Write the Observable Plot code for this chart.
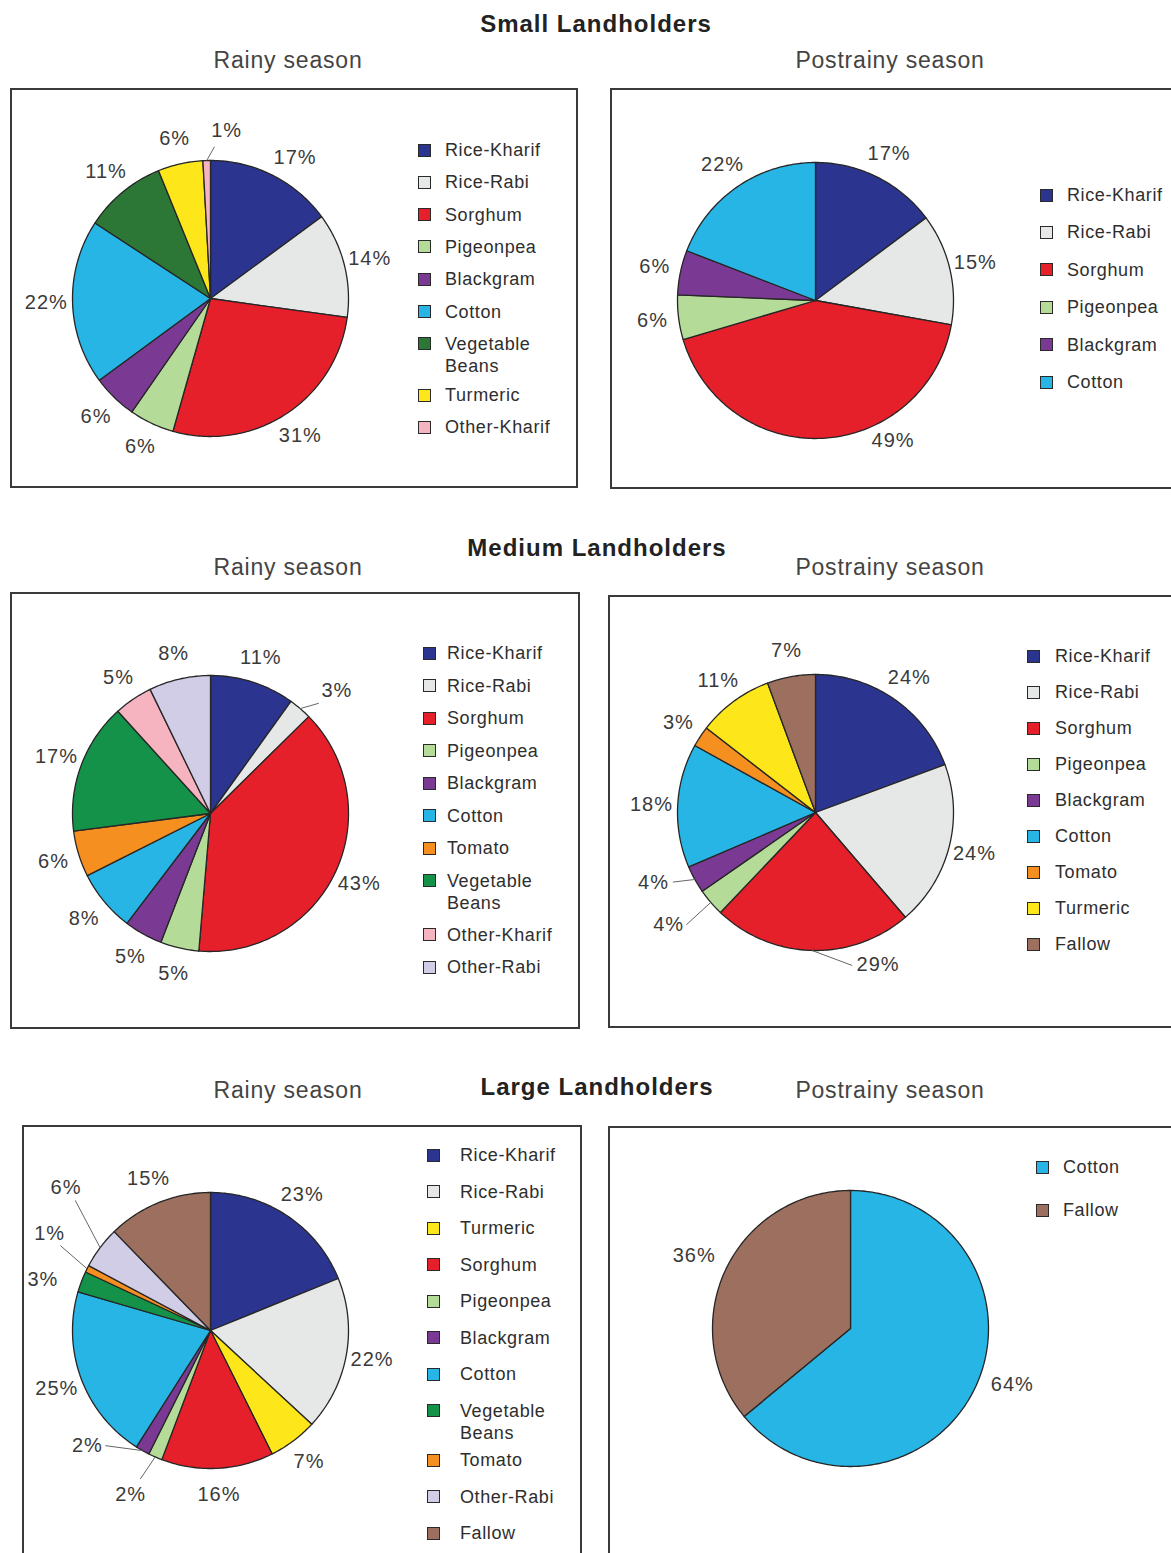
<!DOCTYPE html>
<html>
<head>
<meta charset="utf-8">
<script src="https://cdn.jsdelivr.net/npm/d3@7"></script>
<script src="https://cdn.jsdelivr.net/npm/@observablehq/plot@0.6"></script>
<style>
  body { margin: 0; background: #fff; font-family: "Liberation Sans", Arial, sans-serif; }
  #root { position: relative; width: 1171px; height: 1553px; overflow: hidden; background: #fff; }
  .abs { position: absolute; }
  .title { font-weight: bold; font-size: 24px; letter-spacing: 1px; color: #222; transform: translateX(-50%); white-space: nowrap; line-height: 28px; }
  .sub { font-size: 23px; letter-spacing: 0.8px; color: #444; transform: translateX(-50%); white-space: nowrap; line-height: 28px; }
  .box { border: 2px solid #3a3a3a; box-sizing: border-box; background: #fff; }
  .lrow { position: absolute; display: flex; align-items: flex-start; }
  .sw { width: 13px; height: 13px; box-sizing: border-box; border: 1.6px solid #2a2a2a; margin-top: 4.5px; flex: none; }
  .lt { font-size: 18px; letter-spacing: 0.6px; color: #2e2e2e; line-height: 22px; width: 118px; }
</style>
</head>
<body>
<div id="root"></div>
<script>
// ---------- data ----------
const smallRainyCrops = ["Rice-Kharif","Rice-Rabi","Sorghum","Pigeonpea","Blackgram","Cotton","Vegetable Beans","Turmeric","Other-Kharif"];
const smallRainyShares = [17,14,31,6,6,22,11,6,1];

const smallPostCrops = ["Rice-Kharif","Rice-Rabi","Sorghum","Pigeonpea","Blackgram","Cotton"];
const smallPostShares = [17,15,49,6,6,22];

const mediumRainyCrops = ["Rice-Kharif","Rice-Rabi","Sorghum","Pigeonpea","Blackgram","Cotton","Tomato","Vegetable Beans","Other-Kharif","Other-Rabi"];
const mediumRainyShares = [11,3,43,5,5,8,6,17,5,8];

const mediumPostCrops = ["Rice-Kharif","Rice-Rabi","Sorghum","Pigeonpea","Blackgram","Cotton","Tomato","Turmeric","Fallow"];
const mediumPostShares = [24,24,29,4,4,18,3,11,7];

const largeRainyCrops = ["Rice-Kharif","Rice-Rabi","Turmeric","Sorghum","Pigeonpea","Blackgram","Cotton","Vegetable Beans","Tomato","Other-Rabi","Fallow"];
const largeRainyShares = [23,22,7,16,2,2,25,3,1,6,15];

const largePostCrops = ["Cotton","Fallow"];
const largePostShares = [64,36];

const allCrops = ["Rice-Kharif","Rice-Rabi","Sorghum","Pigeonpea","Blackgram","Cotton","Vegetable Beans","Turmeric","Other-Kharif","Other-Rabi","Tomato","Fallow"];
const cropColors = ["#2b3590","#e6e7e7","#e6202a","#b5db98","#7a3a94","#27b5e6","#14924a","#fde619","#f6b4c0","#d2cde7","#f58f1f","#9c6f5e"];

const groupTitles = ["Small Landholders","Medium Landholders","Large Landholders"];
const seasonTitles = ["Rainy season","Postrainy season"];

// ---------- layout / style (not data) ----------
const R = 138, SIZE = 420, HALF = SIZE / 2, DOM = HALF / R;
const titleLayout = [
  {title: 596, y: 24, sub: 60},
  {title: 597, y: 548, sub: 567},
  {title: 597, y: 1087, sub: 1090}
];
const subX = [288, 890];
const boxes = [
  {l: 10, t: 88, w: 568, h: 400}, {l: 610, t: 88, w: 600, h: 401},
  {l: 10, t: 592, w: 570, h: 437}, {l: 608, t: 595, w: 600, h: 433},
  {l: 22, t: 1125, w: 560, h: 500}, {l: 608, t: 1126, w: 600, h: 500}
];
const charts = [
  {id: "smallRainy", crops: smallRainyCrops, shares: smallRainyShares, cx: 210, cy: 298, veg: "#2c7636",
   legend: {sx: 424, tx: 445, y0: 150, pitch: 32.3, extra: 19},
   tweaks: {"Other-Kharif": {angle: 5.5, r: 1.22, leader: [1.5, 1.10]},
            "Rice-Kharif": {angle: 31, r: 1.19}}},
  {id: "smallPost", crops: smallPostCrops, shares: smallPostShares, cx: 815, cy: 300,
   legend: {sx: 1046, tx: 1067, y0: 195, pitch: 37.4, extra: 19},
   tweaks: {"Sorghum": {angle: 151, r: 1.16}}},
  {id: "mediumRainy", crops: mediumRainyCrops, shares: mediumRainyShares, cx: 210, cy: 813,
   legend: {sx: 429, tx: 447, y0: 653, pitch: 32.5, extra: 21.5},
   tweaks: {"Rice-Rabi": {angle: 45.7, r: 1.28, leader: [44.5, 1.12]}}},
  {id: "mediumPost", crops: mediumPostCrops, shares: mediumPostShares, cx: 815, cy: 812,
   legend: {sx: 1033, tx: 1055, y0: 656, pitch: 36, extra: 19},
   tweaks: {"Sorghum": {angle: 157.6, r: 1.19, leader: [166.5, 1.14]},
            "Blackgram": {angle: 246.5, r: 1.28, leader: [244, 1.15]},
            "Pigeonpea": {angle: 232.6, r: 1.34, leader: [229, 1.24]}}},
  {id: "largeRainy", crops: largeRainyCrops, shares: largeRainyShares, cx: 210, cy: 1330,
   legend: {sx: 433, tx: 460, y0: 1155, pitch: 36.5, extra: 13},
   tweaks: {"Pigeonpea": {angle: 206, r: 1.32, leader: [205.3, 1.19]},
            "Blackgram": {angle: 227, r: 1.22, leader: [222.4, 1.13]},
            "Tomato": {angle: 301, r: 1.36, leader: [299.5, 1.25]},
            "Other-Rabi": {angle: 314.6, r: 1.47, leader: [313.9, 1.36]},
            "Vegetable Beans": {angle: 287, r: 1.27}}},
  {id: "largePost", crops: largePostCrops, shares: largePostShares, cx: 850, cy: 1328,
   legend: {sx: 1042, tx: 1063, y0: 1167, pitch: 43, extra: 19},
   tweaks: {"Cotton": {angle: 109, r: 1.24}, "Fallow": {angle: 295, r: 1.25}}}
];

const root = document.getElementById("root");
function add(cls, css, html) {
  const d = document.createElement("div");
  d.className = cls;
  Object.assign(d.style, css);
  if (html != null) d.textContent = html;
  root.appendChild(d);
  return d;
}

// titles
titleLayout.forEach((t, i) => {
  add("abs title", {left: t.title + "px", top: (t.y - 14) + "px"}, groupTitles[i]);
  seasonTitles.forEach((s, j) => add("abs sub", {left: subX[j] + "px", top: (t.sub - 14) + "px"}, s));
});
// boxes
boxes.forEach(b => add("abs box", {left: b.l + "px", top: b.t + "px", width: b.w + "px", height: b.h + "px"}));

const rad = a => a * Math.PI / 180;
function colorRange(chart) {
  return allCrops.map((c, i) => (c === "Vegetable Beans" && chart.veg) ? chart.veg : cropColors[i]);
}

charts.forEach(chart => {
  const arcs = d3.pie().sort(null).value(d => d)(chart.shares);
  const pts = [];
  const labels = [];
  const leaders = [];
  arcs.forEach((a, i) => {
    const crop = chart.crops[i];
    const n = Math.max(2, Math.ceil((a.endAngle - a.startAngle) / rad(1)));
    pts.push({crop, x: 0, y: 0});
    for (let k = 0; k <= n; k++) {
      const t = a.startAngle + (a.endAngle - a.startAngle) * k / n;
      pts.push({crop, x: Math.sin(t), y: Math.cos(t)});
    }
    pts.push({crop, x: 0, y: 0});
    const mid = (a.startAngle + a.endAngle) / 2;
    const tw = chart.tweaks[crop];
    const la = tw ? rad(tw.angle) : mid;
    const lr = tw ? tw.r : 1.19;
    labels.push({text: chart.shares[i] + "%", x: lr * Math.sin(la), y: lr * Math.cos(la)});
    if (tw && tw.leader) {
      const ea = rad(tw.leader[0]), er = tw.leader[1];
      leaders.push({x1: Math.sin(mid), y1: Math.cos(mid), x2: er * Math.sin(ea), y2: er * Math.cos(ea)});
    }
  });

  const svg = Plot.plot({
    width: SIZE, height: SIZE, margin: 0,
    x: {domain: [-DOM, DOM], axis: null},
    y: {domain: [-DOM, DOM], axis: null},
    color: {type: "ordinal", domain: allCrops, range: colorRange(chart)},
    style: {background: "transparent", overflow: "visible", fontFamily: "'Liberation Sans', Arial, sans-serif", letterSpacing: "1px"},
    marks: [
      Plot.line(pts, {x: "x", y: "y", z: "crop", fill: "crop", stroke: "#262626", strokeWidth: 1.3, strokeLinejoin: "round", curve: "linear"}),
      Plot.link(leaders, {x1: "x1", y1: "y1", x2: "x2", y2: "y2", stroke: "#666", strokeWidth: 1}),
      Plot.text(labels, {x: "x", y: "y", text: "text", fontSize: 20, fill: "#3a3a3a"})
    ]
  });
  const holder = add("abs", {left: (chart.cx - HALF) + "px", top: (chart.cy - HALF) + "px", width: SIZE + "px", height: SIZE + "px"});
  holder.appendChild(svg);

  // legend
  const L = chart.legend;
  const range = colorRange(chart);
  let y = L.y0;
  chart.crops.forEach(crop => {
    const row = add("lrow", {left: (L.sx - 6.5) + "px", top: (y - 11) + "px"});
    const sw = document.createElement("div");
    sw.className = "sw";
    sw.style.background = range[allCrops.indexOf(crop)];
    sw.style.marginRight = (L.tx - L.sx - 6.5) + "px";
    const tx = document.createElement("div");
    tx.className = "lt";
    tx.textContent = crop;
    row.appendChild(sw); row.appendChild(tx);
    y += L.pitch + (crop.includes(" ") ? L.extra : 0);
  });
});
</script>
</body>
</html>
